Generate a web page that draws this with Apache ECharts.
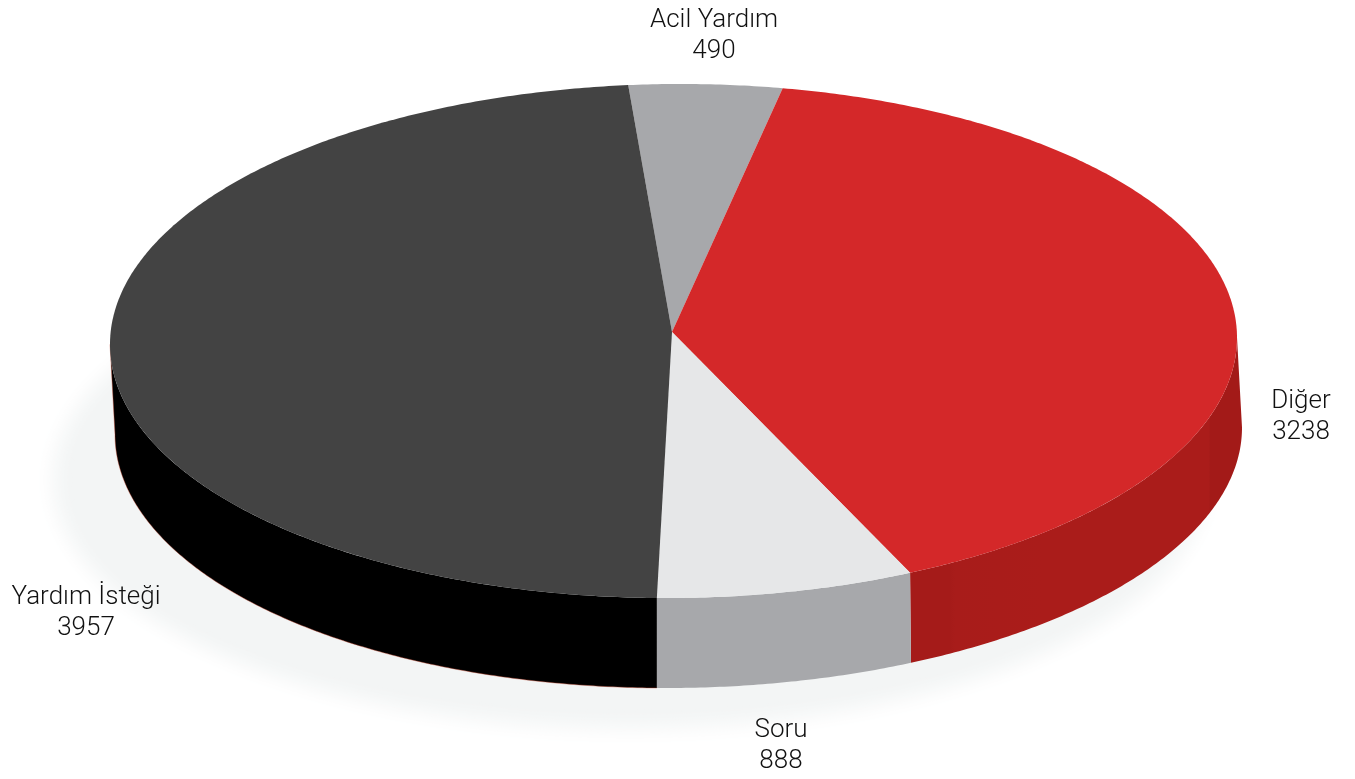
<!DOCTYPE html>
<html>
<head>
<meta charset="utf-8">
<style>html,body{margin:0;padding:0;background:#fff}#c{width:1355px;height:779px}</style>
<script src="https://cdn.jsdelivr.net/npm/echarts@6/dist/echarts.min.js"></script>
</head>
<body>
<div id="c"></div>
<script>
// Data, in drawing order (clockwise from the top of the pie)
var categories = ['Acil Yardım', 'Diğer', 'Soru', 'Yardım İsteği'];
var values = [490, 3238, 888, 3957];

// Styles
var topColors = ['#a7a8ab', '#d42829', '#e6e7e8', '#434343'];
var wallColors = ['#a7a8ab', null, '#a7a8ab', '#000000'];
var edgeColor = 'rgba(200,70,45,0.5)';
var labelFont = 'Roboto';

// Layout
var apex = [672, 332];
var disc = {cx: 673.5, cy: 341, rx: 563.5, ry: 257, tilt: -0.006};
var depth = {dx: 5, dy: 90};
var labelAnchors = [[714, 35.5], [1301, 417], [781, 746], [86, 613]];

var total = values.reduce(function (a, b) { return a + b; }, 0);
var startAngle = -7;
var rad = Math.PI / 180;

// The picture is drawn in perspective: share of the total -> angle on the ellipse
function project(theta) {
  var t = theta * rad;
  return theta - 1.1 - 8.08 * Math.sin(2 * t) + 2.49 * Math.sin(t) + 1.85 * Math.cos(t);
}
function sweep(i) {
  var before = 0;
  for (var k = 0; k < i; k++) before += values[k];
  var a = startAngle + before / total * 360;
  var b = a + values[i] / total * 360;
  return [project(a), project(b)];
}
function topPoint(phi) {
  var s = Math.sin(phi * rad), c = Math.cos(phi * rad);
  return [disc.cx + disc.rx * s, disc.cy - disc.ry * c + disc.tilt * disc.rx * s];
}
function basePoint(phi) {
  var p = topPoint(phi), s = Math.sin(phi * rad);
  return [p[0] + depth.dx * s * s, p[1] + depth.dy];
}
function arc(fn, a, b) {
  var pts = [], n = Math.max(2, Math.ceil(Math.abs(b - a) * 2));
  for (var i = 0; i <= n; i++) pts.push(fn(a + (b - a) * i / n));
  return pts;
}

// Soft ground shadow: nested ellipses running from white to the shadow tint
function renderGround(params, api) {
  var kids = [], layers = 32;
  for (var l = 0; l <= layers; l++) {
    var f = l / layers, pts = [];
    var rx = 596 - 38 * f, ry = 268 - 38 * f;
    for (var i = 0; i < 360; i += 2) {
      pts.push([630 + rx * Math.sin(i * rad), 480 - ry * Math.cos(i * rad)]);
    }
    var e = f * f * (3 - 2 * f);
    var c = [255 - 12 * e, 255 - 10 * e, 255 - 10 * e].map(Math.round);
    kids.push({type: 'polygon', shape: {points: pts},
      style: {fill: 'rgb(' + c.join(',') + ')'}});
  }
  return {type: 'group', children: kids};
}

function renderWall(params, api) {
  var i = params.dataIndex, r = sweep(i);
  var a = Math.max(r[0], 90), b = Math.min(r[1], 270);
  if (b <= a) return {type: 'group', children: []};
  var pts = arc(topPoint, a, b).concat(arc(basePoint, b, a));
  var fill = wallColors[i] || new echarts.graphic.LinearGradient(0, 0, 1, 0, [
    {offset: 0, color: '#a51b19'}, {offset: 0.12, color: '#a51b19'},
    {offset: 0.135, color: '#a81c1a'}, {offset: 0.40, color: '#aa1c1a'},
    {offset: 0.90, color: '#aa1c1a'}, {offset: 0.905, color: '#a31a18'},
    {offset: 1, color: '#a31a18'}
  ]);
  var kids = [{type: 'polygon', shape: {points: pts}, style: {fill: fill}}];
  if (i === 3) {
    kids.push({type: 'polyline', shape: {points: arc(basePoint, a, b).concat([topPoint(b)])},
      style: {fill: null, stroke: edgeColor, lineWidth: 0.8}});
  }
  return {type: 'group', children: kids};
}

function renderTop(params, api) {
  var i = params.dataIndex, r = sweep(i);
  var pts = [apex].concat(arc(topPoint, r[0], r[1]));
  return {type: 'polygon', shape: {points: pts}, style: {fill: topColors[i]}};
}

function renderLabel(params, api) {
  var i = params.dataIndex, p = labelAnchors[i];
  return {
    type: 'text', silent: true,
    style: {
      x: p[0], y: p[1], align: 'center', verticalAlign: 'middle',
      text: categories[i] + '\n' + api.value(0),
      font: '300 26px ' + labelFont, lineHeight: 31, fill: '#111111'
    }
  };
}

var rows = values.map(function (v) { return [v]; });
var chart = echarts.init(document.getElementById('c'), null, {renderer: 'canvas'});
chart.setOption({
  animation: false,
  backgroundColor: '#ffffff',
  series: [
    {type: 'custom', coordinateSystem: 'none', silent: true, z: 1, data: [[total]], renderItem: renderGround},
    {type: 'custom', coordinateSystem: 'none', silent: true, z: 2, data: rows, renderItem: renderWall},
    {type: 'custom', coordinateSystem: 'none', silent: true, z: 3, data: rows, renderItem: renderTop},
    {type: 'custom', coordinateSystem: 'none', silent: true, z: 4, data: rows, renderItem: renderLabel}
  ]
});
</script>
</body>
</html>
